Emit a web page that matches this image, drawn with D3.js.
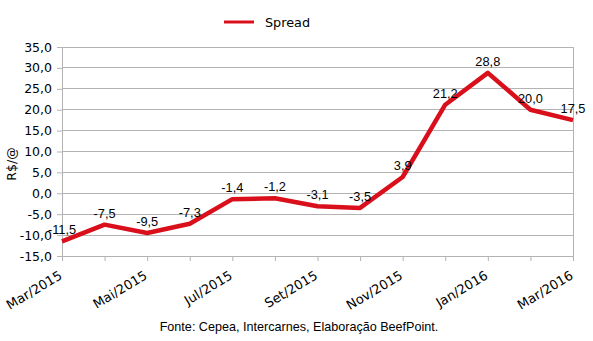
<!DOCTYPE html>
<html>
<head>
<meta charset="utf-8">
<script src="https://cdn.jsdelivr.net/npm/d3@7"></script>
<style>
  html, body { margin: 0; padding: 0; background: #fff; }
  svg { display: block; }
</style>
</head>
<body>
<svg id="chart" width="593" height="341"></svg>
<script>
// Monthly spread values (R$/@), Mar/2015 – Mar/2016
const months = ["Mar/2015","Abr/2015","Mai/2015","Jun/2015","Jul/2015","Ago/2015","Set/2015",
                "Out/2015","Nov/2015","Dez/2015","Jan/2016","Fev/2016","Mar/2016"];
const spread = [-11.5, -7.5, -9.5, -7.3, -1.4, -1.2, -3.1, -3.5, 3.9, 21.2, 28.8, 20.0, 17.5];
const yTicks = [-15, -10, -5, 0, 5, 10, 15, 20, 25, 30, 35];
const seriesName = "Spread";
const source = "Fonte: Cepea, Intercarnes, Elaboração BeefPoint.";

const fmt = v => d3.format(".1f")(v).replace(".", ",").replace("−", "-");

const svg = d3.select("#chart");
const plot = { left: 62, right: 573, top: 47, bottom: 256 };
const red = "#d9101c";

const x = d3.scalePoint().domain(months).range([plot.left, plot.right]);
const y = d3.scaleLinear().domain([-15, 35]).range([plot.bottom, plot.top]);

// horizontal gridlines
svg.append("g")
  .selectAll("line").data(yTicks).join("line")
  .attr("x1", plot.left).attr("x2", plot.right)
  .attr("y1", d => y(d)).attr("y2", d => y(d))
  .attr("stroke", "#b3b3b3").attr("stroke-width", 1)
  .attr("shape-rendering", "crispEdges");

// right border
svg.append("line")
  .attr("x1", plot.right).attr("x2", plot.right).attr("y1", plot.top).attr("y2", plot.bottom + 5)
  .attr("stroke", "#b3b3b3").attr("shape-rendering", "crispEdges");

// y axis
const yAxis = svg.append("g")
  .attr("transform", `translate(${plot.left},0)`)
  .call(d3.axisLeft(y).tickValues(yTicks).tickFormat(fmt).tickSize(5).tickPadding(5));
yAxis.select(".domain").attr("stroke", "#b3b3b3");
yAxis.selectAll(".tick line").attr("stroke", "#b3b3b3");
yAxis.selectAll("text")
  .attr("font-family", "DejaVu Sans, Verdana, sans-serif")
  .attr("font-size", "12.5px").attr("fill", "#000");

// x axis (ticks at every month)
const xAxis = svg.append("g")
  .attr("transform", `translate(0,${plot.bottom})`)
  .call(d3.axisBottom(x).tickSize(5).tickFormat(""));
xAxis.select(".domain").attr("stroke", "#b3b3b3");
xAxis.selectAll(".tick line").attr("stroke", "#b3b3b3");

// rotated category labels, every other month
svg.append("g")
  .selectAll("text").data(months.filter((d, i) => i % 2 === 0)).join("text")
  .attr("transform", d => `translate(${x(d) + 1},${plot.bottom + 22}) rotate(-31)`)
  .attr("text-anchor", "end")
  .attr("font-family", "DejaVu Sans, Verdana, sans-serif")
  .attr("font-size", "13px").attr("fill", "#000")
  .text(d => d);

// y axis title
svg.append("text")
  .attr("transform", `translate(16,164) rotate(-90)`)
  .attr("text-anchor", "middle")
  .attr("font-family", "DejaVu Sans, Verdana, sans-serif")
  .attr("font-size", "12.5px").attr("fill", "#000")
  .text("R$/@");

// series line
const line = d3.line().x((d, i) => x(months[i])).y(d => y(d));
svg.append("path")
  .datum(spread)
  .attr("d", line)
  .attr("fill", "none")
  .attr("stroke", red)
  .attr("stroke-width", 4.5)
  .attr("stroke-linejoin", "round");

// value labels
svg.append("g")
  .selectAll("text").data(spread).join("text")
  .attr("x", (d, i) => x(months[i]))
  .attr("y", d => y(d) - 7)
  .attr("text-anchor", "middle")
  .attr("font-family", "Liberation Sans, Arial, sans-serif")
  .attr("font-size", "12.8px").attr("fill", "#000")
  .text(d => fmt(d));

// legend
svg.append("line")
  .attr("x1", 224).attr("x2", 254).attr("y1", 22).attr("y2", 22)
  .attr("stroke", red).attr("stroke-width", 3);
svg.append("text")
  .attr("x", 265).attr("y", 26.5)
  .attr("font-family", "DejaVu Sans, Verdana, sans-serif")
  .attr("font-size", "12.8px").attr("fill", "#000")
  .text(seriesName);

// source note
svg.append("text")
  .attr("x", 299).attr("y", 331)
  .attr("text-anchor", "middle")
  .attr("font-family", "Liberation Sans, Arial, sans-serif")
  .attr("font-size", "12.6px").attr("fill", "#000")
  .text(source);
</script>
</body>
</html>
